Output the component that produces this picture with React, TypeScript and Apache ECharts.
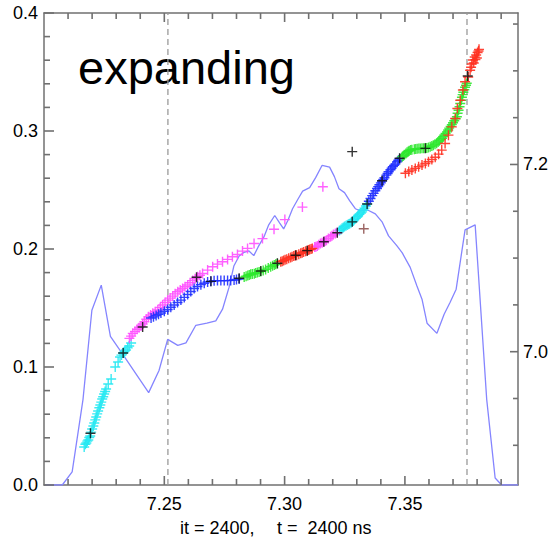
import React, { useEffect, useRef } from "react";
import * as echarts from "echarts";

// ---------- data ----------
const X_RANGE = [7.2, 7.397];
const Y_RANGE = [0, 0.4];
const Y2_RANGE = [6.8576, 7.3618];
const X_LABELS = [7.25, 7.3, 7.35];
const X_MINOR = [7.21, 7.22, 7.23, 7.24, 7.26, 7.27, 7.28, 7.29, 7.31, 7.32, 7.33, 7.34, 7.36, 7.37, 7.38, 7.39];
const Y_LABELS = [0, 0.1, 0.2, 0.3, 0.4];
const Y_MINOR = [0.02, 0.04, 0.06, 0.08, 0.12, 0.14, 0.16, 0.18, 0.22, 0.24, 0.26, 0.28, 0.32, 0.34, 0.36, 0.38];
const Y2_LABELS = [7.0, 7.2];
const Y2_MINOR = [6.9, 6.95, 7.05, 7.1, 7.15, 7.25, 7.3, 7.35];
const DASH_X = [7.2515, 7.3758];
const TITLE_TEXT = "expanding";
const FOOT_LEFT = "it = 2400,";
const FOOT_RIGHT = "t =  2400 ns";

const BLUE_LINE = [
  [7.2006, 6.8576], [7.2076, 6.8576], [7.2117, 6.8716], [7.2162, 6.9488], [7.2199, 7.0443],
  [7.2238, 7.0711], [7.2276, 7.0164], [7.2319, 7.0003], [7.2435, 6.9563], [7.2478, 6.9799],
  [7.2514, 7.0132], [7.2556, 7.0068], [7.259, 7.0094], [7.2631, 7.0282], [7.2677, 7.0304],
  [7.2714, 7.033], [7.2742, 7.0454], [7.2769, 7.0687], [7.2789, 7.0915], [7.2811, 7.1023],
  [7.2832, 7.1062], [7.2852, 7.1076], [7.2872, 7.1026], [7.289, 7.1119], [7.2914, 7.1226],
  [7.2934, 7.1355], [7.2959, 7.1455], [7.2979, 7.1377], [7.2996, 7.1312], [7.3013, 7.1398],
  [7.3033, 7.1527], [7.3054, 7.1623], [7.3075, 7.1715], [7.3104, 7.1752], [7.3129, 7.1859],
  [7.3156, 7.1991], [7.3187, 7.1972], [7.3207, 7.187], [7.3226, 7.1741], [7.3249, 7.1699],
  [7.327, 7.1613], [7.3294, 7.1527], [7.3315, 7.1505], [7.3343, 7.1516], [7.3377, 7.1473],
  [7.3405, 7.1387], [7.3432, 7.1237], [7.3467, 7.113], [7.3489, 7.1055], [7.3522, 7.0901],
  [7.355, 7.0701], [7.3571, 7.0561], [7.3592, 7.0304], [7.3633, 7.0196], [7.3663, 7.04],
  [7.3688, 7.0529], [7.3713, 7.0668], [7.375, 7.1302], [7.3792, 7.1355], [7.384, 6.9488],
  [7.3875, 6.8651], [7.3902, 6.8576], [7.397, 6.8576],
];

const CYAN_PTS = [
  [7.2167, 0.0322], [7.2172, 0.0345], [7.2176, 0.0356], [7.218, 0.0372], [7.2184, 0.0381],
  [7.2188, 0.0402], [7.2192, 0.0415], [7.2196, 0.0448], [7.22, 0.0475], [7.2205, 0.05],
  [7.2209, 0.0525], [7.2213, 0.0552], [7.2217, 0.0576], [7.2221, 0.0603], [7.2225, 0.0627],
  [7.223, 0.0655], [7.2234, 0.0678], [7.2238, 0.0702], [7.2242, 0.0729], [7.2246, 0.0748],
  [7.225, 0.0771], [7.2254, 0.0792], [7.2258, 0.0814], [7.2267, 0.0856], [7.2279, 0.0898],
  [7.2296, 0.1], [7.2308, 0.1042], [7.2316, 0.1085], [7.2322, 0.1101], [7.2329, 0.1119],
  [7.2335, 0.1132], [7.2341, 0.1144], [7.2348, 0.1162], [7.2354, 0.1178], [7.2362, 0.1203],
  [7.3228, 0.2156], [7.3234, 0.2166], [7.3239, 0.2175], [7.3244, 0.2182], [7.3249, 0.219],
  [7.3255, 0.2197], [7.326, 0.2203], [7.3265, 0.2209], [7.327, 0.2215], [7.3276, 0.2222],
  [7.3281, 0.223], [7.3286, 0.2238], [7.329, 0.2249], [7.3296, 0.226], [7.3302, 0.2273],
  [7.3306, 0.2284], [7.3311, 0.2295], [7.3317, 0.2305], [7.3322, 0.2315], [7.3327, 0.233],
  [7.3332, 0.2346], [7.3338, 0.2364], [7.3343, 0.2381],
];

const MAGENTA_PTS = [
  [7.2355, 0.1243], [7.2362, 0.1262], [7.2369, 0.1285], [7.2378, 0.1302], [7.2387, 0.1319],
  [7.2395, 0.1333], [7.2403, 0.1347], [7.241, 0.1365], [7.2417, 0.1383], [7.2425, 0.1405],
  [7.2434, 0.1426], [7.2443, 0.1441], [7.2452, 0.1455], [7.2462, 0.1469], [7.2473, 0.1483],
  [7.2483, 0.1504], [7.2493, 0.1525], [7.2503, 0.1546], [7.2514, 0.1567], [7.2524, 0.1584],
  [7.2535, 0.1601], [7.2545, 0.162], [7.2556, 0.1638], [7.2566, 0.1652], [7.2576, 0.1666],
  [7.2586, 0.168], [7.2597, 0.1695], [7.2607, 0.1714], [7.2618, 0.1732], [7.2628, 0.1748],
  [7.2638, 0.1764], [7.2648, 0.1778], [7.2659, 0.1793], [7.268, 0.1821], [7.2701, 0.1849],
  [7.2721, 0.1872], [7.2742, 0.1892], [7.2763, 0.1912], [7.2783, 0.1934], [7.2804, 0.1953],
  [7.2825, 0.1982], [7.2846, 0.2005], [7.2873, 0.2046], [7.2908, 0.2088], [7.2956, 0.2168],
  [7.3001, 0.2249], [7.3074, 0.2355], [7.3159, 0.2528],
  [7.3125, 0.2016], [7.313, 0.202], [7.3136, 0.2025], [7.3142, 0.2035], [7.3149, 0.2046],
  [7.3156, 0.2053], [7.3163, 0.2061], [7.3168, 0.2068], [7.3174, 0.2075], [7.3182, 0.2089],
  [7.3191, 0.2103], [7.3197, 0.2112], [7.3203, 0.2122], [7.3211, 0.2131], [7.3219, 0.2139],
];

const BLUE_PTS = [
  [7.2445, 0.1415], [7.2455, 0.1425], [7.2466, 0.1436], [7.2476, 0.1446], [7.2486, 0.1457],
  [7.25, 0.1472], [7.2514, 0.1487], [7.2527, 0.1506], [7.2541, 0.1525], [7.2555, 0.1546],
  [7.2569, 0.1567], [7.2583, 0.159], [7.2597, 0.1614], [7.261, 0.164], [7.2624, 0.1665],
  [7.2638, 0.1682], [7.2652, 0.1698], [7.2666, 0.171], [7.268, 0.172], [7.2693, 0.1726],
  [7.2707, 0.1731], [7.2721, 0.1732], [7.2735, 0.1732], [7.2749, 0.1732], [7.2763, 0.1732],
  [7.2776, 0.1734], [7.279, 0.1737], [7.28, 0.1741], [7.2811, 0.1745],
  [7.335, 0.2405], [7.3357, 0.2428], [7.3364, 0.2452], [7.337, 0.2471], [7.3377, 0.2494],
  [7.3384, 0.2513], [7.3389, 0.2529], [7.3394, 0.2545], [7.34, 0.256], [7.3405, 0.2575],
  [7.341, 0.259], [7.3415, 0.2604], [7.3423, 0.2626], [7.3428, 0.264], [7.3432, 0.2655],
  [7.344, 0.2672], [7.3445, 0.2685], [7.345, 0.2698], [7.3455, 0.2709], [7.346, 0.2719],
  [7.3468, 0.274], [7.3473, 0.2752], [7.3478, 0.2765],
];

const GREEN_PTS = [
  [7.2832, 0.1762], [7.284, 0.1769], [7.2847, 0.1775], [7.2853, 0.178], [7.2859, 0.1785],
  [7.2866, 0.1788], [7.2874, 0.1791], [7.288, 0.1796], [7.2887, 0.18], [7.2894, 0.1805],
  [7.2901, 0.181], [7.2911, 0.1818], [7.2921, 0.1827], [7.2932, 0.1838], [7.2942, 0.1849],
  [7.295, 0.1857], [7.2957, 0.1864], [7.2963, 0.187], [7.297, 0.1876],
  [7.3489, 0.2782], [7.3494, 0.279], [7.3498, 0.2799], [7.3504, 0.281], [7.3509, 0.282],
  [7.3514, 0.2827], [7.3518, 0.2833], [7.3524, 0.2838], [7.3529, 0.2842], [7.3539, 0.2846],
  [7.3545, 0.2848], [7.3551, 0.285], [7.3558, 0.2851], [7.3564, 0.2852], [7.3571, 0.2853],
  [7.3578, 0.2854], [7.3585, 0.2855], [7.3591, 0.2856], [7.3598, 0.286], [7.3605, 0.2867],
  [7.3612, 0.2873], [7.3618, 0.288], [7.3625, 0.2888], [7.3632, 0.2897], [7.3638, 0.2907],
  [7.3643, 0.2918], [7.3649, 0.2928], [7.3654, 0.2939], [7.3659, 0.2952], [7.3663, 0.2965],
  [7.3669, 0.2979], [7.3675, 0.2993], [7.368, 0.3008], [7.3684, 0.3024], [7.369, 0.3039],
  [7.3695, 0.3054], [7.37, 0.307], [7.3705, 0.3087], [7.3711, 0.3104], [7.3716, 0.3121],
  [7.3719, 0.315], [7.3723, 0.3176], [7.3727, 0.3205], [7.373, 0.3233], [7.3734, 0.326],
  [7.3737, 0.3286], [7.374, 0.3308], [7.3743, 0.3329], [7.3747, 0.335], [7.375, 0.3371],
  [7.3754, 0.3388], [7.3757, 0.3405],
];

const RED_PTS = [
  [7.2984, 0.1892], [7.299, 0.1897], [7.2996, 0.1902], [7.3002, 0.1908], [7.3009, 0.1914],
  [7.3017, 0.1922], [7.3025, 0.1929], [7.3031, 0.1935], [7.3038, 0.194], [7.3044, 0.1944],
  [7.305, 0.1948], [7.3059, 0.1956], [7.3067, 0.1963], [7.3073, 0.1969], [7.3079, 0.1974],
  [7.3087, 0.198], [7.3094, 0.1986], [7.3099, 0.1991], [7.3104, 0.1995], [7.311, 0.2], [7.3115, 0.2005],
  [7.3502, 0.2642], [7.3516, 0.2657], [7.3529, 0.2669], [7.3543, 0.2683], [7.3557, 0.2697],
  [7.3571, 0.2711], [7.3585, 0.2725], [7.3598, 0.274], [7.3612, 0.2759], [7.3626, 0.2778],
  [7.364, 0.2804], [7.3653, 0.2838], [7.3667, 0.2894], [7.3681, 0.2965], [7.3695, 0.3035],
  [7.3709, 0.3106], [7.3718, 0.3191], [7.373, 0.3261], [7.3741, 0.3347], [7.375, 0.3418],
  [7.3763, 0.3458], [7.3771, 0.3515], [7.3778, 0.3568], [7.3783, 0.3602], [7.379, 0.3627],
  [7.3796, 0.3644], [7.3802, 0.3665], [7.3806, 0.3678], [7.3799, 0.3619], [7.3786, 0.3576],
  [7.3775, 0.354], [7.3793, 0.3605], [7.3808, 0.3692],
];

const BLACK_PTS = [
  [7.2193, 0.0438], [7.2329, 0.1119], [7.241, 0.1339], [7.2634, 0.176], [7.2694, 0.1726],
  [7.2811, 0.1752], [7.2901, 0.1814], [7.297, 0.1879], [7.3046, 0.1947], [7.3094, 0.1986],
  [7.3163, 0.2062], [7.3219, 0.2138], [7.3281, 0.223], [7.3343, 0.2381], [7.3405, 0.2579],
  [7.3478, 0.2769], [7.3585, 0.2853], [7.3761, 0.3466], [7.3281, 0.2825],
];

const BROWN_PTS = [[7.3329, 0.2172]];

// ---------- styling ----------
const FONT = "'Liberation Sans', Arial, Helvetica, sans-serif";
const AXIS_COLOR = "#707070";
const PLUS = "path://M4.3,0H5.7V4.3H10V5.7H5.7V10H4.3V5.7H0V4.3H4.3Z";
const TICK_STYLE = { stroke: AXIS_COLOR, lineWidth: 1.6 };

function scatter(name: string, data: number[][], color: string, size = 10, opacity = 0.9) {
  return {
    name,
    type: "scatter",
    xAxisIndex: 0,
    yAxisIndex: 0,
    data,
    symbol: PLUS,
    symbolSize: size,
    itemStyle: { color, opacity },
    silent: true,
    z: 3,
  };
}

// inward frame ticks, drawn by custom series through the axes' scales
function xTickItem(params: any, api: any) {
  try {
    const v = api.value(0);
    const len = api.value(1);
    const cs = params.coordSys;
    const x = api.coord([v, Y_RANGE[0]])[0];
    const yb = cs.y + cs.height;
    const yt = cs.y;
    return {
      type: "group",
      children: [
        { type: "line", shape: { x1: x, y1: yb, x2: x, y2: yb - len }, style: { ...TICK_STYLE } },
        { type: "line", shape: { x1: x, y1: yt, x2: x, y2: yt + len }, style: { ...TICK_STYLE } },
      ],
    };
  } catch (e) {
    return null;
  }
}

function leftTickItem(params: any, api: any) {
  try {
    const v = api.value(0);
    const len = api.value(1);
    const cs = params.coordSys;
    const y = api.coord([X_RANGE[0], v])[1];
    return { type: "line", shape: { x1: cs.x, y1: y, x2: cs.x + len, y2: y }, style: { ...TICK_STYLE } };
  } catch (e) {
    return null;
  }
}

function rightTickItem(params: any, api: any) {
  try {
    const v = api.value(0);
    const len = api.value(1);
    const cs = params.coordSys;
    const y = api.coord([X_RANGE[0], v])[1];
    const xr = cs.x + cs.width;
    return { type: "line", shape: { x1: xr, y1: y, x2: xr - len, y2: y }, style: { ...TICK_STYLE } };
  } catch (e) {
    return null;
  }
}

export default function App() {
  const ref = useRef<HTMLDivElement>(null);
  useEffect(() => {
    if (!ref.current) return;
    const chart = echarts.init(ref.current, null, { renderer: "svg" });
    const labelStyle = { fontSize: 18, color: "#000", fontFamily: FONT };
    const axisLineStyle = { color: AXIS_COLOR, width: 1.5 };
    const dashSeries = DASH_X.map((x, i) => ({
      name: "dash" + i,
      type: "line",
      xAxisIndex: 0,
      yAxisIndex: 0,
      data: [
        [x, Y_RANGE[0]],
        [x, Y_RANGE[1]],
      ],
      showSymbol: false,
      silent: true,
      lineStyle: { color: "#9a9a9a", width: 1.3, type: [6, 4] },
      z: 1,
    }));
    const xTicks = [...X_LABELS.map((v) => [v, 9]), ...X_MINOR.map((v) => [v, 6])];
    const leftTicks = [...Y_LABELS.map((v) => [v, 10]), ...Y_MINOR.map((v) => [v, 6])];
    const rightTicks = [...Y2_LABELS.map((v) => [v, 8]), ...Y2_MINOR.map((v) => [v, 5])];
    const tickSeries = (name: string, data: number[][], yAxisIndex: number, renderItem: any) => ({
      name,
      type: "custom",
      xAxisIndex: 0,
      yAxisIndex,
      data,
      renderItem,
      silent: true,
      clip: false,
      z: 10,
    });
    chart.setOption({
      animation: false,
      backgroundColor: "#fff",
      grid: { left: 44, top: 13, width: 474, height: 472, containLabel: false },
      xAxis: [
        {
          type: "value",
          min: X_RANGE[0],
          max: X_RANGE[1],
          position: "bottom",
          axisLine: { show: true, onZero: false, lineStyle: axisLineStyle },
          axisTick: { show: false },
          axisLabel: {
            customValues: X_LABELS,
            formatter: (v: number) => v.toFixed(2),
            margin: 10,
            ...labelStyle,
          },
          splitLine: { show: false },
        },
        {
          type: "value",
          min: X_RANGE[0],
          max: X_RANGE[1],
          position: "top",
          axisLine: { show: true, onZero: false, lineStyle: { ...axisLineStyle } },
          axisTick: { show: false },
          axisLabel: { show: false },
          splitLine: { show: false },
        },
      ],
      yAxis: [
        {
          type: "value",
          min: Y_RANGE[0],
          max: Y_RANGE[1],
          position: "left",
          axisLine: { show: true, onZero: false, lineStyle: { ...axisLineStyle } },
          axisTick: { show: false },
          axisLabel: {
            customValues: Y_LABELS,
            formatter: (v: number) => v.toFixed(1),
            margin: 6,
            ...labelStyle,
          },
          splitLine: { show: false },
        },
        {
          type: "value",
          min: Y2_RANGE[0],
          max: Y2_RANGE[1],
          position: "right",
          axisLine: { show: true, onZero: false, lineStyle: { ...axisLineStyle } },
          axisTick: { show: false },
          axisLabel: {
            customValues: Y2_LABELS,
            formatter: (v: number) => v.toFixed(1),
            margin: 5,
            ...labelStyle,
          },
          splitLine: { show: false },
        },
      ],
      series: [
        ...dashSeries,
        {
          name: "profile",
          type: "line",
          xAxisIndex: 0,
          yAxisIndex: 1,
          data: BLUE_LINE,
          showSymbol: false,
          lineStyle: { color: "#8585ff", width: 1.3 },
          silent: true,
          z: 2,
        },
        scatter("cyan", CYAN_PTS, "#22e8f2"),
        scatter("magenta", MAGENTA_PTS, "#ff50ff"),
        scatter("blue", BLUE_PTS, "#2030ff"),
        scatter("green", GREEN_PTS, "#2ee82e"),
        scatter("red", RED_PTS, "#ff3020"),
        scatter("black", BLACK_PTS, "#111", 10, 0.85),
        scatter("brown", BROWN_PTS, "#8a4a48", 10, 0.85),
        tickSeries("xticks", xTicks, 0, xTickItem),
        tickSeries("leftticks", leftTicks, 0, leftTickItem),
        tickSeries("rightticks", rightTicks, 1, rightTickItem),
      ],
      graphic: [
        {
          type: "text",
          left: 78,
          top: 44,
          style: { text: TITLE_TEXT, fontSize: 47, fontFamily: FONT, fill: "#000" },
          silent: true,
        },
        {
          type: "text",
          left: 180,
          top: 519,
          style: { text: FOOT_LEFT, fontSize: 18, fontFamily: FONT, fill: "#000" },
          silent: true,
        },
        {
          type: "text",
          left: 277,
          top: 519,
          style: { text: FOOT_RIGHT, fontSize: 18, fontFamily: FONT, fill: "#000" },
          silent: true,
        },
      ],
    });
    return () => chart.dispose();
  }, []);
  return (
    <div
      ref={ref}
      style={{ position: "absolute", left: 0, top: 0, width: 557, height: 544, background: "#fff" }}
    />
  );
}
